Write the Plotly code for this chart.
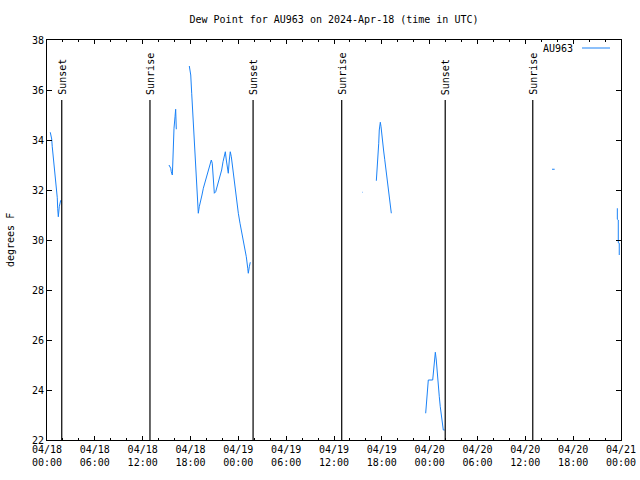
import pandas as pd
import plotly.graph_objects as go

START = pd.Timestamp("2024-04-18 00:00")

# Dew point segments: hours since 2024-04-18 00:00 UTC, and value (deg F)
seg1_h = [0.41, 0.59, 0.66, 0.79, 0.92, 1.09, 1.22, 1.29, 1.34, 1.42, 1.54, 1.72]
seg1_v = [34.31, 34.04, 33.73, 33.29, 32.89, 32.49, 32.09, 31.69, 31.27, 30.93, 31.33, 31.59]

seg2_h = [15.30, 15.52, 15.59, 15.72, 15.77, 15.84, 15.93, 16.06, 16.14, 16.22]
seg2_v = [33.0, 32.87, 32.73, 32.6, 33.0, 33.8, 34.47, 34.93, 35.23, 34.43]

seg3_h = [17.85, 18.03, 18.15, 18.28, 18.40, 18.53, 18.65, 18.78, 18.98, 19.10,
          19.28, 19.44, 19.61, 19.78, 19.94, 20.11, 20.28, 20.45, 20.61, 20.73,
          20.86, 20.99, 21.16, 21.32, 21.49, 21.70, 21.91, 22.08, 22.20, 22.37,
          22.49, 22.62, 22.74, 22.87, 22.99, 23.12, 23.29, 23.46, 23.62, 23.80,
          24.00, 24.21, 24.42, 24.62, 24.84, 25.00, 25.18, 25.25, 25.38, 25.50]
seg3_v = [36.96, 36.6, 35.87, 35.13, 34.4, 33.67, 32.93, 32.13, 31.07, 31.33,
          31.53, 31.8, 32.07, 32.27, 32.47, 32.67, 32.87, 33.07, 33.2, 33.07,
          32.4, 31.87, 31.93, 32.13, 32.33, 32.53, 32.8, 33.13, 33.33, 33.53,
          33.2, 32.87, 32.67, 33.2, 33.53, 33.33, 32.87, 32.53, 32.13, 31.6,
          31.07, 30.67, 30.33, 30.0, 29.6, 29.33, 28.87, 28.67, 28.93, 29.11]

seg4_h = [39.52, 39.58]
seg4_v = [31.91, 31.91]

seg5_h = [41.31, 41.39, 41.48, 41.61, 41.68, 41.81, 41.90, 41.98, 42.11, 42.23,
          42.36, 42.48, 42.61, 42.73, 42.86, 42.98, 43.11, 43.19]
seg5_v = [32.37, 32.69, 33.23, 33.87, 34.4, 34.71, 34.53, 34.23, 33.89, 33.56,
          33.23, 32.89, 32.56, 32.23, 31.89, 31.56, 31.27, 31.07]

seg6_h = [47.50, 47.63, 47.75, 47.83, 48.38, 48.46, 48.58, 48.71, 48.83, 48.96,
          49.08, 49.21, 49.33, 49.46, 49.58, 49.71, 49.88]
seg6_v = [23.07, 23.53, 24.0, 24.4, 24.4, 24.67, 25.2, 25.51, 25.2, 24.53,
          24.13, 23.73, 23.33, 22.93, 22.6, 22.4, 22.4]

seg7_h = [63.35, 63.68]
seg7_v = [32.83, 32.83]

seg8_h = [71.54, 71.54, 71.66, 71.66, 71.78, 71.78]
seg8_v = [31.27, 30.83, 30.8, 29.89, 29.87, 29.4]

segments = [(seg1_h, seg1_v), (seg2_h, seg2_v), (seg3_h, seg3_v), (seg4_h, seg4_v),
            (seg5_h, seg5_v), (seg6_h, seg6_v), (seg7_h, seg7_v), (seg8_h, seg8_v)]

# Sun events
sun_times = ["2024-04-18 01:51", "2024-04-18 12:55", "2024-04-19 01:51",
             "2024-04-19 12:58", "2024-04-20 01:57", "2024-04-20 12:56"]
sun_labels = ["Sunset", "Sunrise", "Sunset", "Sunrise", "Sunset", "Sunrise"]
sun_line_top = 35.6

# Axis ticks
x_tickvals = ["2024-04-18 00:00", "2024-04-18 06:00", "2024-04-18 12:00", "2024-04-18 18:00",
              "2024-04-19 00:00", "2024-04-19 06:00", "2024-04-19 12:00", "2024-04-19 18:00",
              "2024-04-20 00:00", "2024-04-20 06:00", "2024-04-20 12:00", "2024-04-20 18:00",
              "2024-04-21 00:00"]
x_ticktext = ["04/18<br>00:00", "04/18<br>06:00", "04/18<br>12:00", "04/18<br>18:00",
              "04/19<br>00:00", "04/19<br>06:00", "04/19<br>12:00", "04/19<br>18:00",
              "04/20<br>00:00", "04/20<br>06:00", "04/20<br>12:00", "04/20<br>18:00",
              "04/21<br>00:00"]
y_tickvals = [22, 24, 26, 28, 30, 32, 34, 36, 38]

LINE_COLOR = "#1a82f7"
FONT = "DejaVu Sans Mono"

# plot-area geometry in pixels (used for paper-coordinate text placement)
PL, PR, PT, PB = 47, 621, 40, 440
PW, PH = PR - PL, PB - PT

fig = go.Figure()
for h, v in segments:
    t = [START + pd.to_timedelta(x, unit="h") for x in h]
    fig.add_trace(go.Scatter(x=t, y=v, mode="lines",
                             line=dict(color=LINE_COLOR, width=1),
                             showlegend=False, hoverinfo="skip"))

for t, lab in zip(sun_times, sun_labels):
    fig.add_shape(type="line", x0=t, x1=t, y0=22, y1=sun_line_top,
                  xref="x", yref="y", line=dict(color="black", width=1.2))
    fig.add_annotation(x=t, y=sun_line_top, xref="x", yref="y", text=lab,
                       textangle=-90, showarrow=False, xanchor="center",
                       yanchor="bottom", yshift=3,
                       font=dict(family=FONT, size=10, color="black"))

# Legend (gnuplot style: label left, sample right)
fig.add_annotation(x=(575 - PL) / PW, y=(PB - 49) / PH, xref="paper", yref="paper",
                   text="AU963", showarrow=False, xanchor="right", yanchor="middle",
                   font=dict(family=FONT, size=10, color="black"))
fig.add_shape(type="line", xref="paper", yref="paper",
              x0=(582 - PL) / PW, x1=(610 - PL) / PW,
              y0=(PB - 48) / PH, y1=(PB - 48) / PH,
              line=dict(color=LINE_COLOR, width=1))

# Y axis title (gnuplot style, placed near left edge)
fig.add_annotation(x=(10 - PL) / PW, y=0.5, xref="paper", yref="paper",
                   text="degrees F", textangle=-90, showarrow=False,
                   xanchor="center", yanchor="middle",
                   font=dict(family=FONT, size=10, color="black"))

fig.update_layout(
    width=640, height=480,
    margin=dict(l=PL, r=640 - PR, t=PT, b=480 - PB, autoexpand=False),
    paper_bgcolor="white", plot_bgcolor="white",
    title=dict(text="Dew Point for AU963 on 2024-Apr-18 (time in UTC)",
               x=0.5, xref="paper", y=1 - 19 / 480, yanchor="middle",
               font=dict(family=FONT, size=10, color="black")),
    font=dict(family=FONT, size=10, color="black"),
    showlegend=False,
)
fig.update_xaxes(
    type="date", range=["2024-04-18 00:00", "2024-04-21 00:00"],
    tickvals=x_tickvals, ticktext=x_ticktext, automargin=False,
    ticks="inside", ticklen=4, tickcolor="black", tickwidth=1,
    minor=dict(dtick=2 * 3600 * 1000, tick0="2024-04-18 00:00", ticks="inside",
               ticklen=2, tickcolor="black", tickwidth=1, showgrid=False),
    showline=True, linecolor="black", linewidth=1, mirror="allticks",
    showgrid=False, zeroline=False,
    tickfont=dict(family=FONT, size=10, color="black"),
)
fig.update_yaxes(
    range=[22, 38], tickvals=y_tickvals, automargin=False,
    ticks="inside", ticklen=5, tickcolor="black", tickwidth=1,
    showline=True, linecolor="black", linewidth=1, mirror="allticks",
    showgrid=False, zeroline=False,
    tickfont=dict(family=FONT, size=10, color="black"),
)

fig.write_html("out.html")
